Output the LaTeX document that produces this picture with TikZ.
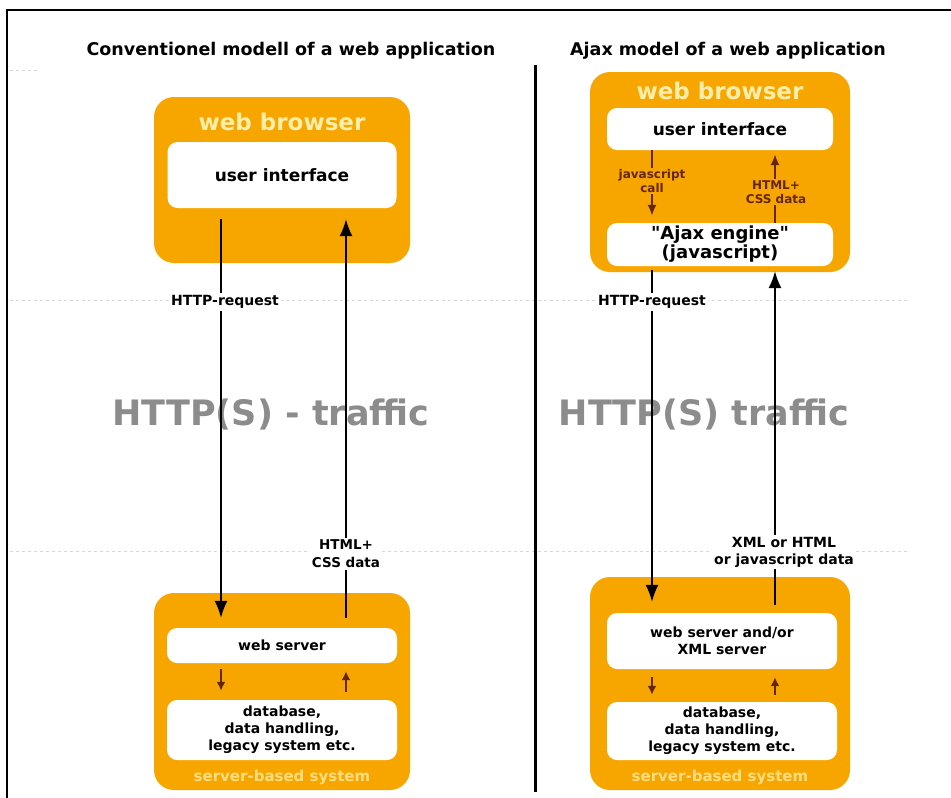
\documentclass[tikz,border=0pt]{standalone}
\usepackage{fontspec}
\setmainfont{DejaVu Sans}
\newfontfamily\rawfont{DejaVu Sans}[Ligatures=TeXOff]
\usetikzlibrary{arrows.meta,calc}
\definecolor{orng}{RGB}{247,166,0}
\definecolor{lyel}{RGB}{255,238,170}
\definecolor{lyel2}{RGB}{255,222,130}
\definecolor{brn}{RGB}{100,38,5}
\definecolor{gtxt}{RGB}{140,140,140}
\definecolor{dotc}{RGB}{215,215,215}
\newcommand{\sq}{{\rawfont\bfseries"}}
\begin{document}
\begin{tikzpicture}[x=1pt,y=-1pt,
  obox/.style={fill=orng,draw=none,rounded corners=20pt,inner sep=0pt},
  ibox/.style={fill=white,draw=none,rounded corners=10pt,inner sep=0pt,align=center,
    font=\bfseries\fontsize{14}{17}\selectfont},
  wbtitle/.style={anchor=base,text=lyel,font=\bfseries\fontsize{23}{26}\selectfont},
  sbstitle/.style={anchor=base,text=lyel2,font=\bfseries\fontsize{15}{18}\selectfont},
  heading/.style={anchor=base,font=\bfseries\fontsize{17.5}{20}\selectfont},
  traffic/.style={anchor=base,text=gtxt,font=\bfseries\fontsize{35}{40}\selectfont},
  lbl/.style={fill=white,inner sep=2pt,align=center,font=\bfseries\fontsize{14}{17}\selectfont},
  blbl/.style={fill=orng,inner sep=1.5pt,align=center,text=brn,font=\bfseries\fontsize{12}{14}\selectfont},
  mainarr/.style={line width=1.7pt,-{Latex[length=17pt,width=13pt]}},
  brarr/.style={line width=2pt,draw=brn,-{Latex[length=11pt,width=9pt]}},
  smallarr/.style={line width=1.8pt,draw=brn,-{Latex[length=9pt,width=9pt]}},
  dotline/.style={draw=dotc,line width=1pt,dash pattern=on 3pt off 3pt}
]
\useasboundingbox (0,0) rectangle (951,798);
\fill[white] (0,0) rectangle (951,798);

% faint dotted guide lines
\draw[dotline] (10,300) -- (910,300);
\draw[dotline] (10,551) -- (910,551);
\draw[dotline] (10,70) -- (40,70);

% frame and divider
\draw[line width=2.5pt] (951,10) -- (7,10) -- (7,798);
\draw[line width=3pt] (535,65) -- (535,792);

% headings
\node[heading] (h1) at (291,55) {Conventionel modell of a web application};
\node[heading] (h2) at (728,55) {Ajax model of a web application};

% traffic texts
\node[traffic] (t1) at (271,425) {HTTP(S) - traffic};
\node[traffic] (t2) at (704,425) {HTTP(S) traffic};

% ---------- left: conventional ----------
\node[obox,minimum width=256pt,minimum height=166pt] (wb1) at (282,180) {};
\node[wbtitle] (wbt1) at (282,130) {web browser};
\node[ibox,minimum width=229pt,minimum height=66pt,font=\bfseries\fontsize{17}{20}\selectfont] (ui1) at (282,175) {user interface};

\node[obox,minimum width=256pt,minimum height=197pt] (srv1) at (282,691.5) {};
\node[ibox,minimum width=230pt,minimum height=35pt] (ws1) at (282,645.5) {web server};
\node[ibox,minimum width=230pt,minimum height=60pt] (db1) at (282,730) {database,\\data handling,\\legacy system etc.};
\node[sbstitle] (sbs1) at (282,781) {server-based system};

\coordinate (xL1) at (221,0);
\coordinate (xL2) at (346,0);
\draw[mainarr,shorten <=11pt,shorten >=10pt] (ui1.south -| xL1) -- (ws1.north -| xL1);
\node[lbl] (hr1) at (225,302) {HTTP-request};
\draw[mainarr,shorten <=10pt,shorten >=11pt] (ws1.north -| xL2) -- (ui1.south -| xL2);
\node[lbl,font=\bfseries\fontsize{13.5}{18}\selectfont] (hc1) at (346,554) {HTML+\\CSS data};
\draw[smallarr,shorten <=6pt,shorten >=9pt] (ws1.south -| xL1) -- (db1.north -| xL1);
\draw[smallarr,shorten <=8pt,shorten >=8pt] (db1.north -| xL2) -- (ws1.south -| xL2);

% ---------- right: ajax ----------
\node[obox,minimum width=260pt,minimum height=200pt] (wb2) at (720,172) {};
\node[wbtitle] (wbt2) at (720,99) {web browser};
\node[ibox,minimum width=226pt,minimum height=42pt,font=\bfseries\fontsize{17}{20}\selectfont] (ui2) at (720,129) {user interface};
\node[ibox,minimum width=226pt,minimum height=43pt,font=\bfseries\fontsize{18}{19}\selectfont] (aj2) at (720,244.5) {\sq Ajax engine\sq\\(javascript)};

\node[obox,minimum width=260pt,minimum height=213pt] (srv2) at (720,683.5) {};
\node[ibox,minimum width=230pt,minimum height=56pt] (ws2) at (722,641) {web server and/or\\XML server};
\node[ibox,minimum width=230pt,minimum height=58pt] (db2) at (722,731) {database,\\data handling,\\legacy system etc.};
\node[sbstitle] (sbs2) at (720,781) {server-based system};

\coordinate (xR1) at (652,0);
\coordinate (xR2) at (775,0);
\draw[brarr,shorten >=7pt] (ui2.south -| xR1) -- (aj2.north -| xR1);
\node[blbl] (js2) at (652,181) {javascript\\call};
\draw[brarr,shorten >=4pt] (aj2.north -| xR2) -- (ui2.south -| xR2);
\node[blbl] (hc2) at (776,192) {HTML+\\CSS data};

\draw[mainarr,shorten <=4pt,shorten >=11pt] (aj2.south -| xR1) -- (ws2.north -| xR1);
\node[lbl] (hr2) at (652,302) {HTTP-request};
\draw[mainarr,shorten <=8pt,shorten >=5pt] (ws2.north -| xR2) -- (aj2.south -| xR2);
\node[lbl,font=\bfseries\fontsize{14}{17}\selectfont] (xm2) at (784,552) {XML or HTML\\or javascript data};
\draw[smallarr,shorten <=8pt,shorten >=7pt] (ws2.south -| xR1) -- (db2.north -| xR1);
\draw[smallarr,shorten <=7pt,shorten >=8pt] (db2.north -| xR2) -- (ws2.south -| xR2);
\end{tikzpicture}
\end{document}
